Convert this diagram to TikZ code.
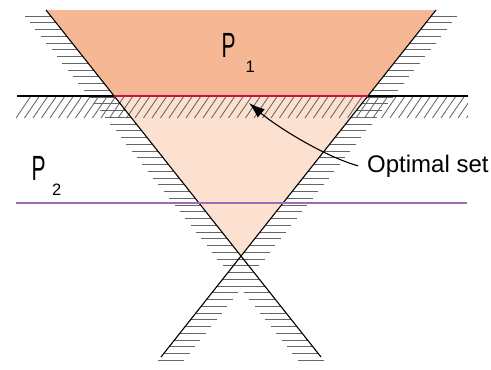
\documentclass[tikz,border=0pt]{standalone}
\usepackage{fontspec}
\setmainfont{Liberation Sans}
\usepackage{graphicx}
\usepackage{xcolor}
\usetikzlibrary{arrows.meta,calc}

\definecolor{topfill}{RGB}{246,184,148}
\definecolor{lowfill}{RGB}{252,224,208}
\definecolor{optred}{RGB}{200,20,60}
\definecolor{ptwoline}{RGB}{155,110,180}

\begin{document}
\begin{tikzpicture}[x=1pt, y=-1pt,
    hatch/.style={draw=black!60, line width=0.85pt},
    border/.style={draw=black, line width=1.1pt},
    bigP/.style={inner sep=0pt, anchor=base west, font=\fontsize{35}{40}\selectfont},
    subnum/.style={inner sep=0pt, anchor=base west, font=\fontsize{16.5}{18}\selectfont},
    opttext/.style={inner sep=0pt, inner xsep=9pt, anchor=base west, font=\fontsize{24}{28}\selectfont}
]
    \useasboundingbox (0,0) rectangle (491,370);

    % Corner points of the two cones
    \coordinate (ltop) at (46,10);
    \coordinate (lbot) at (321,357);
    \coordinate (rtop) at (436,10);
    \coordinate (rbot) at (161,357);
    \coordinate (vtx) at (241,256);
    \coordinate (lcut) at (114.2,96);
    \coordinate (rcut) at (367.8,96);

    % Feasible regions
    \fill[topfill] (ltop) -- (rtop) -- (rcut) -- (lcut) -- cycle;
    \fill[lowfill] (lcut) -- (rcut) -- (vtx) -- cycle;

    % Hatching along the slanted lines
    \foreach \yy in {16,22.75,...,364} {
        \draw[hatch] ($(ltop)!{(\yy-10)/347}!(lbot)$) -- ++(-26,0);
        \draw[hatch] ($(rtop)!{(\yy-10)/347}!(rbot)$) -- ++(26,0);
    }

    % Cut of P_1 with its hatching
    \begin{scope}
        \clip (16,96) rectangle (468,118);
        \foreach \xx in {16,24.5,...,470}
            \draw[hatch] (\xx,118) -- ++(15,-22);
    \end{scope}
    \coordinate (cutl) at (17,96);
    \coordinate (cutr) at (468,96);
    \draw[border] (cutl) -- (cutr);

    \draw[border] (ltop) -- (lbot);
    \draw[border] (rtop) -- (rbot);

    % Optimal face and P_2 level
    \draw[optred, line width=2.8pt] (lcut) -- (rcut);
    \coordinate (pl) at (16,203);
    \coordinate (pr) at (467,203);
    \draw[ptwoline, line width=2.6pt] (pl) -- (pr);

    % Labels
    \node[bigP] (p1) at (221.5,57) {\scalebox{0.6}[1]{P}};
    \node[subnum] (p1sub) at (245.5,72) {1};
    \node[bigP] (p2) at (31.5,180) {\scalebox{0.6}[1]{P}};
    \node[subnum] (p2sub) at (52,195) {2};
    \node[opttext] (opt) at (358,172) {Optimal set};

    \coordinate (optpt) at (249,103);
    \draw[-{Latex[length=16pt,width=11pt]}, line width=1.1pt] (opt.west) .. controls (323,156) and (275.6,125.7) .. (optpt);
\end{tikzpicture}
\end{document}
